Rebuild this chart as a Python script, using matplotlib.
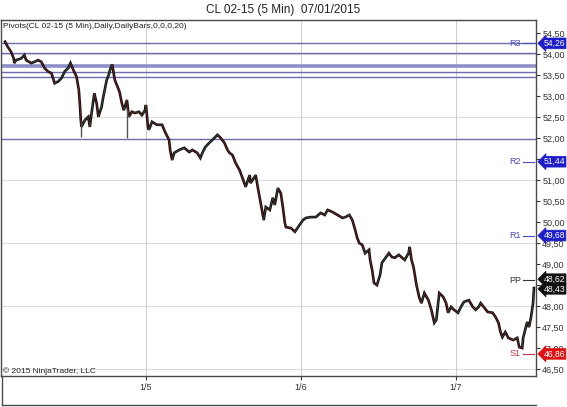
import matplotlib
matplotlib.use("Agg")
import matplotlib.pyplot as plt
import matplotlib.transforms as mtransforms
from matplotlib.lines import Line2D
import numpy as np

plt.rcParams['font.family'] = ['Liberation Sans', 'DejaVu Sans']

# ---- data (time in days relative to 1/5 session start, price in USD) ----
times = [-0.909, -0.892, -0.870, -0.853, -0.849, -0.838, -0.805, -0.784, -0.773, -0.740,
         -0.719, -0.697, -0.675, -0.654, -0.632, -0.610, -0.589, -0.567, -0.545, -0.524,
         -0.502, -0.487, -0.469, -0.448, -0.433, -0.425, -0.421, -0.416, -0.394, -0.372,
         -0.362, -0.351, -0.333, -0.318, -0.307, -0.286, -0.275, -0.266, -0.253, -0.240,
         -0.232, -0.218, -0.201, -0.175, -0.169, -0.156, -0.143, -0.136, -0.123, -0.110,
         -0.091, -0.071, -0.045, -0.026, -0.006, 0.000, 0.013, 0.019, 0.039, 0.071,
         0.104, 0.123, 0.149, 0.156, 0.169, 0.182, 0.214, 0.247, 0.279, 0.299,
         0.331, 0.351, 0.364, 0.383, 0.409, 0.429, 0.461, 0.481, 0.506, 0.526,
         0.539, 0.558, 0.578, 0.604, 0.623, 0.643, 0.669, 0.675, 0.708, 0.721,
         0.740, 0.760, 0.773, 0.799, 0.818, 0.831, 0.851, 0.870, 0.883, 0.896,
         0.903, 0.935, 0.961, 0.981, 1.013, 1.032, 1.064, 1.096, 1.127, 1.153,
         1.172, 1.204, 1.236, 1.268, 1.287, 1.312, 1.331, 1.350, 1.363, 1.376,
         1.395, 1.414, 1.439, 1.446, 1.459, 1.471, 1.490, 1.510, 1.522, 1.567,
         1.586, 1.605, 1.631, 1.669, 1.694, 1.701, 1.713, 1.726, 1.745, 1.764,
         1.777, 1.796, 1.822, 1.841, 1.860, 1.873, 1.885, 1.892, 1.917, 1.936,
         1.949, 1.968, 1.987, 2.013, 2.032, 2.051, 2.083, 2.108, 2.127, 2.146,
         2.159, 2.178, 2.204, 2.236, 2.255, 2.274, 2.287, 2.299, 2.318, 2.338,
         2.369, 2.395, 2.408, 2.427, 2.433, 2.446, 2.459, 2.471, 2.484, 2.497,
         2.503]
prices = [54.30, 54.18, 54.06, 53.90, 53.79, 53.86, 53.90, 53.98, 53.86, 53.79,
          53.82, 53.86, 53.82, 53.67, 53.59, 53.55, 53.31, 53.35, 53.43, 53.59,
          53.67, 53.79, 53.63, 53.47, 53.15, 52.75, 52.47, 52.27, 52.43, 52.51,
          52.27, 52.59, 53.07, 52.83, 52.51, 52.75, 52.99, 53.15, 53.39, 53.51,
          53.63, 53.76, 53.39, 53.15, 53.08, 52.84, 52.67, 52.74, 52.91, 52.51,
          52.63, 52.60, 52.63, 52.55, 52.67, 52.79, 52.27, 52.20, 52.39, 52.32,
          52.32, 52.15, 51.96, 51.72, 51.48, 51.65, 51.72, 51.77, 51.67, 51.72,
          51.65, 51.53, 51.65, 51.79, 51.89, 51.96, 52.08, 52.01, 51.89, 51.72,
          51.65, 51.60, 51.41, 51.24, 51.05, 50.84, 51.12, 50.93, 51.12, 50.84,
          50.46, 50.05, 50.36, 50.29, 50.58, 50.41, 50.81, 50.69, 50.36, 49.98,
          49.88, 49.86, 49.77, 49.88, 50.05, 50.10, 50.12, 50.12, 50.22, 50.17,
          50.29, 50.24, 50.17, 50.10, 50.12, 50.17, 50.05, 49.81, 49.62, 49.50,
          49.46, 49.26, 49.34, 49.10, 48.86, 48.55, 48.50, 48.74, 49.03, 49.26,
          49.17, 49.15, 49.22, 49.10, 49.26, 49.41, 49.10, 48.93, 48.50, 48.19,
          48.07, 48.31, 48.14, 47.91, 47.60, 47.67, 48.07, 48.31, 48.22, 48.07,
          47.84, 47.98, 47.91, 47.84, 47.98, 48.10, 48.14, 47.98, 47.91, 47.98,
          48.07, 47.98, 47.86, 47.84, 47.74, 47.60, 47.38, 47.26, 47.38, 47.24,
          47.19, 47.24, 47.02, 47.00, 47.24, 47.43, 47.62, 47.50, 47.74, 48.07,
          48.43]

# long lower wicks
wick_times = [-0.422, -0.120]
wick_tops = [52.40, 52.70]
wick_lows = [52.03, 52.01]

# pivot lines drawn across the chart
pivot_lines = [54.26, 54.04, 53.58, 53.45, 51.99]
pivot_band = [53.71]

# right-axis price markers
marker_names = ['R3', 'R2', 'R1', 'PP', 'S1']
marker_values = [54.26, 51.44, 49.68, 48.62, 46.86]
marker_colors = ['#1c1cc8', '#1c1cc8', '#1c1cc8', '#111111', '#dd1111']
name_colors = ['#4a4ac0', '#4a4ac0', '#4a4ac0', '#333333', '#cc3344']
last_price = 48.43

day_ticks = [0, 1, 2]
day_labels = ['1/5', '1/6', '1/7']
price_ticks = [46.5, 47.0, 47.5, 48.0, 48.5, 49.0, 49.5, 50.0, 50.5, 51.0,
               51.5, 52.0, 52.5, 53.0, 53.5, 54.0, 54.5]
hidden_tick_labels = [48.5, 51.5]   # covered by price tags in the reference
grid_levels = [46.5, 48.0, 49.5, 51.0, 52.5, 54.0]

W, H = 567, 407
fig = plt.figure(figsize=(W / 100, H / 100), dpi=100)
ax = fig.add_axes([1 / W, 31 / H, 535 / W, 356 / H])
ax.set_xlim(-0.935, 2.516)
ax.set_ylim(46.333, 54.817)

# grid
for g in grid_levels:
    ax.axhline(g, color='#dcdcdc', lw=0.8, zorder=0)
for d in day_ticks:
    ax.axvline(d, color='#d0d0d0', lw=0.8, zorder=0)

# pivot lines
for v in pivot_lines:
    ax.axhline(v, color='#6c6cae', lw=1.0, zorder=1)
for v in pivot_band:
    ax.axhline(v, color='#8e8ec8', lw=2.6, zorder=1)

# price series
t = np.array(times)
p = np.array(prices)
ax.plot(t, p, color='#121212', lw=1.9, zorder=3, solid_joinstyle='miter')
for i in range(1, len(t)):
    if p[i] < p[i - 1]:
        ax.plot(t[i - 1:i + 1], p[i - 1:i + 1], color='#8a1c1c', lw=0.5, zorder=4)
    else:
        ax.plot(t[i - 1:i + 1], p[i - 1:i + 1], color='#4a6a4a', lw=0.35, zorder=4)
ax.vlines(wick_times, wick_lows, wick_tops, color='#555555', lw=1.0, zorder=3)

# axes styling
for s in ax.spines.values():
    s.set_color('#4a4a4a')
    s.set_linewidth(1.0)
ax.yaxis.tick_right()
ax.set_yticks(price_ticks)
ax.set_yticklabels(['' if v in hidden_tick_labels else f"{v:.2f}".replace('.', ',')
                    for v in price_ticks])
ax.set_xticks(day_ticks)
ax.set_xticklabels(day_labels)
ax.tick_params(axis='y', direction='out', length=3, pad=1.5, labelsize=6.5,
               colors='#333333', width=0.8)
ax.tick_params(axis='x', direction='out', length=3, pad=2, labelsize=6.5,
               colors='#333333', width=0.8)

btr = mtransforms.blended_transform_factory(ax.transAxes, ax.transData)

# pivot names + dashes
for name, val, nc in zip(marker_names, marker_values, name_colors):
    ax.text(0.972, val, name, transform=btr, ha='right', va='center',
            fontsize=6.5, color=nc, zorder=6)
    ax.plot([0.976, 0.996], [val, val], transform=btr, color=nc, lw=0.8,
            zorder=6, clip_on=False)

# price tags
def tag(val, fc, dy_pts=0.0):
    off = mtransforms.offset_copy(btr, fig=fig, x=0, y=dy_pts, units='points')
    ax.text(1.014, val, f"{val:.2f}".replace('.', ','), transform=off,
            ha='left', va='center', fontsize=6.2, color='white', zorder=20,
            clip_on=False,
            bbox=dict(boxstyle='larrow,pad=0.1', fc=fc, ec=fc, lw=0.5))

for name, val, fc in zip(marker_names, marker_values, marker_colors):
    tag(val, fc, 0.6 if name == 'PP' else 0.0)
tag(last_price, '#111111', -0.6)

# titles and annotations
fig.text(0.5, 1 - 10 / H, 'CL 02-15 (5 Min)  07/01/2015', ha='center', va='center',
         fontsize=8.5, color='#222222')
fig.text(3 / W, 1 - 26 / H, 'Pivots(CL 02-15 (5 Min),Daily,DailyBars,0,0,0,20)',
         ha='left', va='center', fontsize=6, color='#222222')
fig.text(3 / W, 1 - 371 / H, '\u00a9 2015 NinjaTrader, LLC', ha='left',
         va='center', fontsize=6, color='#222222')

# outer frame of the time-axis strip
fig.add_artist(Line2D([1.5 / W, 1.5 / W], [31 / H, 2 / H], transform=fig.transFigure,
                      color='#4a4a4a', lw=1.0))
fig.add_artist(Line2D([1.5 / W, 536 / W], [2 / H, 2 / H], transform=fig.transFigure,
                      color='#4a4a4a', lw=1.0))

fig.savefig('out.png', dpi=100)
